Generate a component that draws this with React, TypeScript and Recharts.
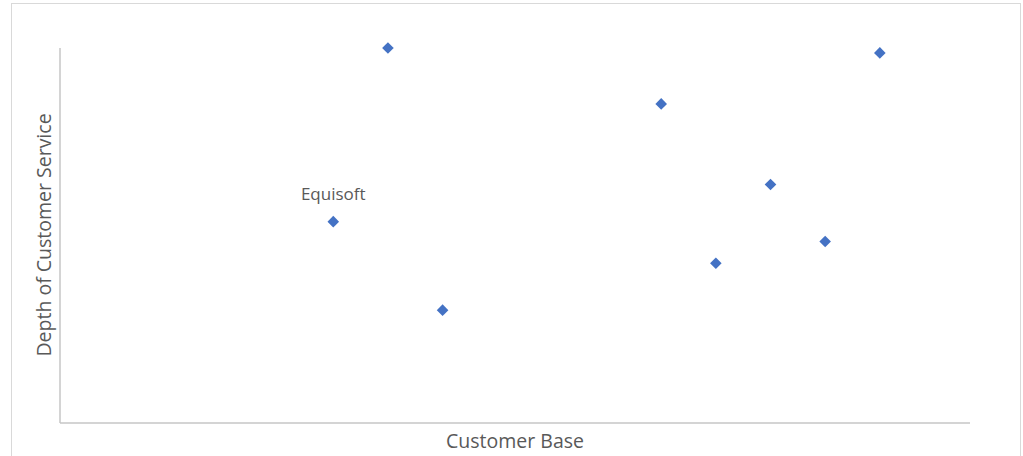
import { ScatterChart, Scatter, XAxis, YAxis, LabelList } from "recharts"

// Customer base (x) vs depth of customer service (y)
const companies = ["Equisoft", "", "", "", "", "", "", ""]
const customerBase = [5, 6, 7, 11, 12, 13, 14, 15]
const serviceDepth = [53.7, 100, 30.1, 85.1, 42.6, 63.6, 48.4, 98.7]

const data = customerBase.map((x, i) => ({ name: companies[i], x, y: serviceDepth[i] }))

const FONT = "'Open Sans', 'Noto Sans', sans-serif"
const TEXT = "#595959"

const Diamond = (props: any) => {
  const { cx, cy } = props
  const r = 5.8
  return (
    <polygon
      points={`${cx},${cy - r} ${cx + r},${cy} ${cx},${cy + r} ${cx - r},${cy}`}
      fill="#4472C4"
    />
  )
}

const NameLabel = (props: any) => {
  const { x, y, width, value } = props
  if (!value) return null
  return (
    <text x={x + width / 2} y={y - 17} textAnchor="middle" fontSize={17} fill={TEXT} fontFamily={FONT}>
      {value}
    </text>
  )
}

export default function App() {
  return (
    <div style={{ position: "absolute", left: 0, top: 0, width: 1023, height: 456, background: "#fff", overflow: "hidden" }}>
      <div style={{ position: "absolute", left: 11, top: 3, width: 1008, height: 470, border: "1px solid #d9d9d9" }} />
      <ScatterChart
        width={1023}
        height={456}
        margin={{ top: 48, right: 53, bottom: 32, left: 59 }}
        style={{ position: "absolute", left: 0, top: 0 }}
      >
        <XAxis
          type="number"
          dataKey="x"
          domain={[0, 16.65]}
          tick={false}
          tickLine={false}
          height={1}
          axisLine={{ stroke: "#c6c6c6", strokeWidth: 1.5 }}
        />
        <YAxis
          type="number"
          dataKey="y"
          domain={[0, 100]}
          tick={false}
          tickLine={false}
          width={1}
          axisLine={{ stroke: "#c6c6c6", strokeWidth: 1.5 }}
        />
        <Scatter data={data} shape={<Diamond />} isAnimationActive={false}>
          <LabelList dataKey="name" content={<NameLabel />} />
        </Scatter>
      </ScatterChart>
      <div
        style={{
          position: "absolute",
          left: 60,
          width: 910,
          top: 427,
          textAlign: "center",
          fontFamily: FONT,
          fontSize: 19.5,
          color: TEXT,
        }}
      >
        Customer Base
      </div>
      <div
        style={{
          position: "absolute",
          left: 43,
          top: 235,
          transform: "translate(-50%, -50%) rotate(-90deg)",
          whiteSpace: "nowrap",
          fontFamily: FONT,
          fontSize: 19.5,
          color: TEXT,
        }}
      >
        Depth of Customer Service
      </div>
    </div>
  )
}
